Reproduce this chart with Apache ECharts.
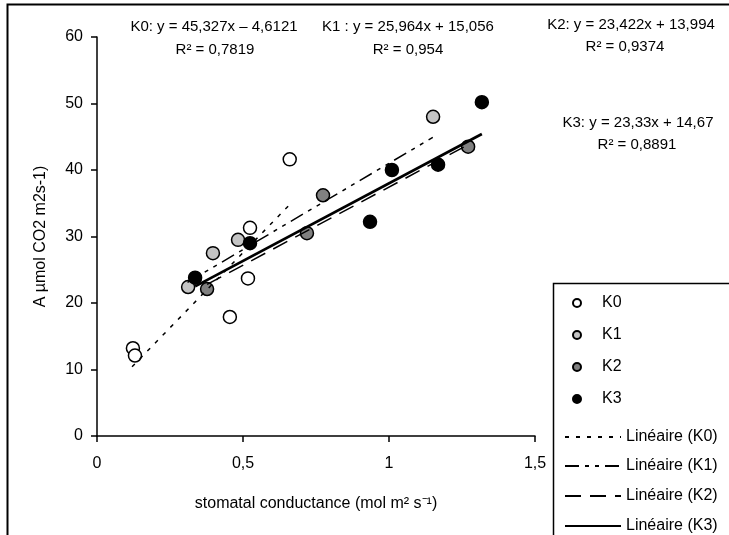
<!DOCTYPE html>
<html><head><meta charset="utf-8">
<script src="https://cdn.jsdelivr.net/npm/echarts@6/dist/echarts.min.js"></script>
<style>html,body{margin:0;padding:0;background:#fff}#c{width:729px;height:535px}</style>
</head><body><div id="c"></div>
<script>
// ---- data ----
const seriesNames = ['K0', 'K1', 'K2', 'K3'];
const K0 = [[0.123, 13.2], [0.130, 12.1], [0.455, 17.9], [0.517, 23.7], [0.524, 31.3], [0.66, 41.6]];
const K1 = [[0.312, 22.4], [0.397, 27.5], [0.483, 29.5], [1.151, 48.0]];
const K2 = [[0.377, 22.1], [0.719, 30.5], [0.774, 36.2], [1.271, 43.5]];
const K3 = [[0.336, 23.8], [0.524, 29.0], [0.935, 32.2], [1.01, 40.0], [1.168, 40.8], [1.318, 50.2]];
// trend-line end points as drawn
const lineK0 = [[0.12, 10.4], [0.66, 34.8]];
const lineK1 = [[0.31, 23.1], [1.15, 44.9]];
const lineK2 = [[0.377, 22.8], [1.271, 43.8]];
const lineK3 = [[0.336, 22.5], [1.318, 45.4]];
const lineNames = ['Linéaire (K0)', 'Linéaire (K1)', 'Linéaire (K2)', 'Linéaire (K3)'];
const equations = ['K0: y = 45,327x – 4,6121', 'K1 : y = 25,964x + 15,056', 'K2: y = 23,422x + 13,994', 'K3: y = 23,33x + 14,67'];
const r2Labels = ['R² = 0,7819', 'R² = 0,954', 'R² = 0,9374', 'R² = 0,8891'];
const xTicks = [0, 0.5, 1, 1.5];
const yTicks = [0, 10, 20, 30, 40, 50, 60];

// ---- styling ----
const FONT = 'Liberation Sans, Arial, sans-serif';
const fills = ['#ffffff', '#c4c4c4', '#808080', '#000000'];
const dashes = [[4, 7], [14, 6, 4, 6, 4, 6], [16, 9], 'solid'];
const widths = [1.5, 1.5, 1.5, 2.8];
const pts = [K0, K1, K2, K3];
const lines = [lineK0, lineK1, lineK2, lineK3];

const series = [];
pts.forEach((d, i) => series.push({
  name: seriesNames[i], type: 'scatter', data: d, symbol: 'circle', symbolSize: 13, z: 3,
  itemStyle: { color: fills[i], borderColor: '#000', borderWidth: 1.5, opacity: 1 }
}));
lines.forEach((d, i) => series.push({
  name: lineNames[i], type: 'line', data: d, symbol: 'none', showSymbol: false, z: 4,
  itemStyle: { color: '#000' },
  lineStyle: { color: '#000', width: widths[i], type: dashes[i] }
}));

const scatterLegendY = [299, 331, 363, 395];
const lineLegendY = [433, 462, 492, 522];
const legends = [];
seriesNames.forEach((n, i) => legends.push({
  data: [{ name: n, icon: 'circle' }], left: 567, top: scatterLegendY[i] - 9,
  itemWidth: 40, itemHeight: 8, symbolKeepAspect: true, selectedMode: false,
  textStyle: { fontFamily: FONT, fontSize: 16, color: '#000' }
}));
lineNames.forEach((n, i) => legends.push({
  data: [{ name: n }], left: 559, top: lineLegendY[i] - 9,
  itemWidth: 56, itemHeight: 14, selectedMode: false,
  itemStyle: { opacity: 0 },
  textStyle: { fontFamily: FONT, fontSize: 16, color: '#000' }
}));

const eqPos = [[214, 27, 215, 50], [408, 27, 408, 50], [631, 25, 625, 47], [638, 123, 637, 145]];
const graphics = [
  { type: 'rect', shape: { x: 7.5, y: 4.5, width: 1000, height: 1000 }, style: { fill: 'none', stroke: '#000', lineWidth: 2 }, z: 0 },
  { type: 'rect', shape: { x: 553.5, y: 283.5, width: 500, height: 500 }, style: { fill: '#fff', stroke: '#000', lineWidth: 1.5 }, z: 0 }
];
equations.forEach((t, i) => {
  const p = eqPos[i];
  graphics.push({ type: 'text', x: p[0], y: p[1], style: { text: t, font: '15px ' + FONT, fill: '#000', textAlign: 'center', textVerticalAlign: 'middle' } });
  graphics.push({ type: 'text', x: p[2], y: p[3], style: { text: r2Labels[i], font: '15px ' + FONT, fill: '#000', textAlign: 'center', textVerticalAlign: 'middle' } });
});

const chart = echarts.init(document.getElementById('c'), null, { renderer: 'canvas' });
chart.setOption({
  backgroundColor: '#fff',
  animation: false,
  grid: { left: 97, top: 37, right: 194, bottom: 99, containLabel: false },
  xAxis: {
    type: 'value', min: xTicks[0], max: xTicks[xTicks.length - 1], interval: 0.5,
    name: 'stomatal conductance (mol m² s⁻¹)', nameLocation: 'middle', nameGap: 60,
    nameTextStyle: { fontFamily: FONT, fontSize: 16, color: '#000' },
    axisLine: { lineStyle: { color: '#000', width: 1.5 } },
    axisTick: { show: true, inside: false, length: 6, lineStyle: { color: '#000', width: 1.5 } },
    axisLabel: { margin: 20, fontFamily: FONT, fontSize: 16, color: '#000', formatter: v => String(v).replace('.', ',') },
    splitLine: { show: false }
  },
  yAxis: {
    type: 'value', min: yTicks[0], max: yTicks[yTicks.length - 1], interval: 10,
    name: 'A µmol CO2 m2s-1)', nameLocation: 'middle', nameGap: 48, nameRotate: 90,
    nameTextStyle: { fontFamily: FONT, fontSize: 16, color: '#000' },
    axisLine: { lineStyle: { color: '#000', width: 1.5 } },
    axisTick: { show: true, inside: false, length: 6, lineStyle: { color: '#000', width: 1.5 } },
    axisLabel: { margin: 14, fontFamily: FONT, fontSize: 16, color: '#000' },
    splitLine: { show: false }
  },
  legend: legends,
  graphic: graphics,
  series: series
});
</script></body></html>
